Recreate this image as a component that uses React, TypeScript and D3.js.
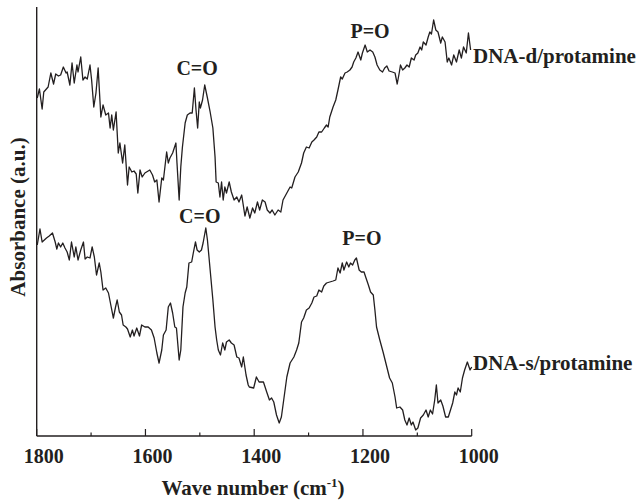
import React from "react";
import * as d3 from "d3";

// Wavenumber (cm-1), absorbance (a.u.)
const dnaDWavenumber = [1799,1795,1790,1787,1779,1774,1769,1765,1760,1756,1751,1746,1744,1739,1735,1731,1726,1724,1719,1715,1711,1707,1702,1699,1695,1691,1687,1682,1678,1673,1668,1665,1662,1659,1654,1650,1647,1642,1638,1633,1630,1625,1621,1617,1614,1610,1606,1601,1592,1587,1583,1579,1575,1570,1567,1561,1558,1555,1550,1544,1542,1538,1535,1532,1527,1523,1518,1514,1510,1507,1504,1501,1499,1495,1491,1486,1481,1476,1472,1470,1466,1463,1460,1457,1454,1451,1446,1442,1437,1432,1428,1423,1417,1413,1408,1403,1399,1394,1390,1385,1380,1376,1371,1367,1362,1356,1351,1347,1340,1334,1331,1325,1319,1313,1309,1304,1299,1294,1290,1285,1281,1276,1271,1267,1264,1261,1255,1250,1246,1241,1238,1233,1229,1224,1220,1217,1213,1209,1204,1201,1196,1192,1187,1182,1178,1174,1169,1164,1160,1156,1152,1146,1141,1137,1133,1131,1127,1123,1119,1115,1111,1106,1103,1099,1095,1092,1089,1084,1080,1077,1074,1070,1066,1062,1057,1054,1049,1045,1042,1037,1033,1028,1023,1019,1015,1010,1006,1002];
const dnaDAbsorbance = [3.38,3.47,3.27,3.44,3.49,3.63,3.52,3.62,3.60,3.61,3.69,3.63,3.64,3.51,3.73,3.53,3.71,3.64,3.79,3.56,3.59,3.57,3.71,3.56,3.29,3.43,3.68,3.19,3.31,3.21,3.23,3.08,3.21,3.06,3.24,2.83,2.93,2.73,2.91,2.51,2.69,2.64,2.65,2.62,2.43,2.66,2.59,2.63,2.66,2.61,2.54,2.56,2.34,2.58,2.56,2.84,2.73,2.78,2.83,2.93,2.73,2.36,2.69,2.89,3.13,3.21,3.23,3.23,3.48,3.26,3.08,3.34,3.28,3.36,3.51,3.38,3.24,3.08,2.79,2.54,2.53,2.39,2.54,2.36,2.49,2.43,2.54,2.44,2.36,2.39,2.34,2.41,2.20,2.29,2.18,2.28,2.23,2.34,2.26,2.36,2.34,2.26,2.23,2.26,2.21,2.26,2.24,2.36,2.43,2.49,2.48,2.59,2.64,2.73,2.83,2.89,2.88,2.94,2.96,2.99,3.04,3.04,3.08,3.11,3.09,3.19,3.29,3.36,3.46,3.59,3.57,3.63,3.64,3.66,3.69,3.74,3.78,3.84,3.76,3.83,3.91,3.84,3.86,3.84,3.79,3.71,3.66,3.64,3.68,3.70,3.65,3.64,3.63,3.52,3.64,3.71,3.66,3.68,3.71,3.69,3.78,3.76,3.81,3.83,3.89,3.86,3.94,3.91,3.99,4.04,4.02,4.16,4.06,4.04,3.93,3.99,3.94,3.74,3.78,3.71,3.81,3.74,3.86,3.78,3.89,3.83,4.03,3.86];

const dnaSWavenumber = [1799,1794,1790,1782,1777,1771,1766,1763,1760,1756,1752,1748,1744,1740,1736,1731,1728,1724,1719,1714,1711,1707,1702,1698,1694,1690,1685,1682,1678,1673,1668,1663,1659,1655,1652,1648,1644,1641,1636,1633,1628,1624,1621,1616,1611,1607,1601,1595,1589,1584,1579,1575,1570,1567,1562,1558,1554,1550,1546,1543,1538,1535,1531,1527,1524,1520,1515,1512,1508,1505,1501,1497,1494,1489,1486,1481,1476,1472,1469,1466,1462,1458,1454,1451,1446,1442,1437,1432,1428,1423,1420,1415,1411,1409,1401,1396,1391,1383,1377,1372,1368,1364,1359,1354,1350,1345,1340,1334,1327,1322,1318,1313,1309,1304,1299,1294,1290,1285,1281,1276,1272,1267,1261,1255,1250,1246,1242,1238,1235,1230,1226,1223,1219,1215,1212,1207,1203,1198,1195,1190,1186,1181,1178,1175,1169,1163,1157,1151,1146,1141,1138,1132,1127,1123,1119,1115,1111,1108,1103,1099,1094,1089,1084,1080,1076,1072,1068,1065,1062,1057,1053,1048,1043,1039,1035,1031,1028,1025,1021,1017,1013,1008,1003,1000];
const dnaSAbsorbance = [1.91,2.07,1.94,1.98,2.00,2.03,1.94,1.87,1.93,1.89,1.93,1.88,1.84,1.76,1.94,1.79,1.89,1.76,1.86,1.94,1.77,1.79,1.78,1.89,1.79,1.61,1.73,1.64,1.46,1.48,1.43,1.29,1.18,1.29,1.36,1.24,1.21,1.11,1.09,1.07,0.99,1.06,1.00,1.08,1.00,1.11,1.09,1.09,1.06,0.98,0.83,0.73,0.86,1.01,1.06,1.29,1.33,1.23,1.09,1.08,0.76,0.86,1.29,1.43,1.49,1.73,1.74,1.83,1.94,1.86,1.84,1.86,1.93,2.08,1.96,1.66,1.36,1.09,0.96,0.86,0.81,0.93,0.86,0.94,0.96,0.93,0.91,0.79,0.78,0.69,0.79,0.61,0.51,0.49,0.48,0.59,0.54,0.54,0.44,0.36,0.38,0.34,0.21,0.13,0.19,0.39,0.59,0.73,0.79,0.86,0.93,1.14,1.18,1.26,1.28,1.33,1.39,1.40,1.46,1.44,1.50,1.53,1.54,1.55,1.56,1.68,1.63,1.73,1.66,1.74,1.69,1.73,1.71,1.76,1.78,1.66,1.64,1.64,1.59,1.51,1.44,1.41,1.26,1.09,0.96,0.84,0.71,0.58,0.53,0.39,0.28,0.29,0.26,0.16,0.11,0.18,0.11,0.14,0.06,0.08,0.18,0.21,0.26,0.19,0.26,0.22,0.36,0.51,0.33,0.36,0.30,0.19,0.19,0.26,0.33,0.44,0.41,0.48,0.44,0.58,0.66,0.74,0.66,0.69];

const majorTicks = [1800, 1600, 1400, 1200, 1000];
const minorTicks = [1700, 1500, 1300, 1100];
const seriesNames = ["DNA-d/protamine", "DNA-s/protamine"];
const peakLabels = [
  { text: "C=O", wn: 1505, a: 3.61 },
  { text: "P=O", wn: 1187, a: 3.98 },
  { text: "C=O", wn: 1500, a: 2.13 },
  { text: "P=O", wn: 1202, a: 1.91 },
];

const W = 638;
const H = 503;
const FONT = "'Liberation Serif', 'Times New Roman', serif";

export default function App() {
  const x = d3.scaleLinear().domain([1800, 1000]).range([36.7, 471.7]);
  const y = d3.scaleLinear().domain([0, 4.3]).range([436, 6]);
  const line = d3
    .line<[number, number]>()
    .x((d) => x(d[0]))
    .y((d) => y(d[1]));
  const top = dnaDWavenumber.map((w, i) => [w, dnaDAbsorbance[i]] as [number, number]);
  const bot = dnaSWavenumber.map((w, i) => [w, dnaSAbsorbance[i]] as [number, number]);
  const y0 = y(0);
  const ink = "#231f20";

  return (
    <svg
      width={W}
      height={H}
      style={{ position: "absolute", left: 0, top: 0, background: "#fff" }}
      fontFamily={FONT}
      fontWeight="bold"
    >
      <rect width={W} height={H} fill="#fff" />
      {/* axes */}
      <line x1={x(1800)} x2={x(1000)} y1={y0} y2={y0} stroke={ink} strokeWidth={1.4} />
      <line x1={x(1800)} x2={x(1800)} y1={y0} y2={y(4.29)} stroke={ink} strokeWidth={1.4} />
      {majorTicks.map((t) => (
        <line key={"M" + t} x1={x(t)} x2={x(t)} y1={y0} y2={y0 - 7} stroke={ink} strokeWidth={1.2} />
      ))}
      {minorTicks.map((t) => (
        <line key={"m" + t} x1={x(t)} x2={x(t)} y1={y0} y2={y0 - 3.5} stroke={ink} strokeWidth={1.2} />
      ))}
      {majorTicks.map((t) => (
        <text key={"L" + t} x={x(t) + 7} y={463} textAnchor="middle" fontSize={20} fill={ink}>
          {t}
        </text>
      ))}
      <text x={253} y={495} textAnchor="middle" fontSize={21} fill={ink}>
        Wave number (cm
        <tspan fontSize={13} dy={-8}>-1</tspan>
        <tspan dy={8}>)</tspan>
      </text>
      <text
        transform="translate(25,217) rotate(-90)"
        textAnchor="middle"
        fontSize={21}
        fill={ink}
      >
        Absorbance (a.u.)
      </text>

      {/* spectra */}
      <path d={line(top) || ""} fill="none" stroke={ink} strokeWidth={1.3} strokeLinejoin="round" />
      <path d={line(bot) || ""} fill="none" stroke={ink} strokeWidth={1.3} strokeLinejoin="round" />

      {peakLabels.map((p, i) => (
        <text key={"p" + i} x={x(p.wn)} y={y(p.a)} textAnchor="middle" fontSize={20} fill={ink}>
          {p.text}
        </text>
      ))}
      <text x={473} y={63} fontSize={21} fill={ink}>{seriesNames[0]}</text>
      <text x={473} y={370} fontSize={21} fill={ink}>{seriesNames[1]}</text>
    </svg>
  );
}
